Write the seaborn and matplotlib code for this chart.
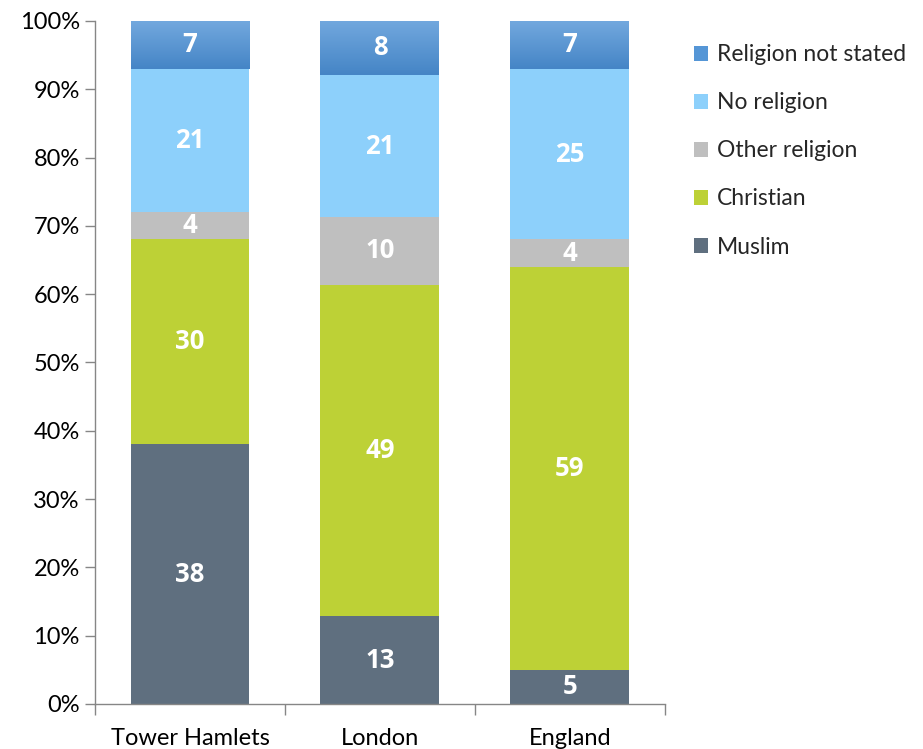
import numpy as np
import pandas as pd
import matplotlib
matplotlib.use("Agg")
import matplotlib.pyplot as plt
from matplotlib.colors import LinearSegmentedColormap
from matplotlib.patches import Patch
import seaborn as sns

# Religion by area, 2011 census (percent of residents)
areas = ["Tower Hamlets", "London", "England"]
religions = ["Muslim", "Christian", "Other religion", "No religion", "Religion not stated"]
muslim = [38, 13, 5]
christian = [30, 49, 59]
other_religion = [4, 10, 4]
no_religion = [21, 21, 25]
not_stated = [7, 8, 7]

colors = {
    "Muslim": "#5F6F7F",
    "Christian": "#BDD136",
    "Other religion": "#BFBFBF",
    "No religion": "#8DD0FB",
    "Religion not stated": "#5596D6",
}

sns.set_theme(style="white")
plt.rcParams["font.family"] = ["Lato", "DejaVu Sans"]

series = [muslim, christian, other_religion, no_religion, not_stated]
df = pd.DataFrame({r: v for r, v in zip(religions, series)}, index=areas)
# 100% stacked: each area's values are scaled to its own total
share = df.div(df.sum(axis=1), axis=0) * 100

fig = plt.figure(figsize=(9.23, 7.49), dpi=100)
ax = fig.add_axes([0.1029, 0.0601, 0.6175, 0.912])

bar_w = 0.626
bottom = np.zeros(len(areas))
grad = LinearSegmentedColormap.from_list("ns", ["#4585C6", "#72A8DE"])
for rel in religions:
    vals = share[rel].values
    sns.barplot(x=areas, y=vals, bottom=bottom, color=colors[rel], width=bar_w,
                ax=ax, saturation=1, linewidth=0, order=areas)
    new_patches = ax.patches[-len(areas):]
    for i, p in enumerate(new_patches):
        if rel == "Religion not stated":
            x0, y0 = p.get_x(), p.get_y()
            w, h = p.get_width(), p.get_height()
            img = np.linspace(0, 1, 64).reshape(-1, 1)
            im = ax.imshow(img, cmap=grad, aspect="auto", origin="lower",
                           extent=[x0, x0 + w, y0, y0 + h], zorder=p.get_zorder() + 0.1)
            im.set_clip_path(p)
        ax.text(i, bottom[i] + vals[i] / 2, f"{df[rel].values[i]}",
                ha="center", va="center", color="white", fontsize=18.5,
                fontweight="bold", family=["Open Sans", "DejaVu Sans"], zorder=5)
    bottom = bottom + vals

ax.set_xlim(-0.5, 2.5)
ax.set_ylim(0, 100)
ax.set_yticks(np.arange(0, 101, 10))
ax.set_yticklabels([f"{t}%" for t in range(0, 101, 10)])
ax.set_xticks(range(len(areas)))
ax.set_xticklabels(areas)
ax.set_xticks([-0.5, 0.5, 1.5, 2.5], minor=True)
ax.tick_params(axis="x", which="major", length=0, pad=17, labelsize=17, colors="black")
ax.tick_params(axis="x", which="minor", length=8, width=1, color="#868686", direction="out")
ax.tick_params(axis="y", length=7, width=1, color="#868686", direction="out",
               labelsize=17, colors="black", pad=4)
ax.tick_params(axis="x", which="minor", bottom=True)
ax.tick_params(axis="y", left=True)
sns.despine(ax=ax)
for s in ("left", "bottom"):
    ax.spines[s].set_color("#868686")
    ax.spines[s].set_linewidth(1)
ax.set_xlabel("")
ax.set_ylabel("")

handles = [Patch(facecolor=colors[r], edgecolor="none", label=r) for r in reversed(religions)]
fig.legend(handles=handles, loc="upper left", bbox_to_anchor=(0.742, 0.953),
           frameon=False, fontsize=16.5, handlelength=0.6, handleheight=0.6,
           handletextpad=0.4, labelspacing=1.18, borderaxespad=0)

fig.savefig("out.png", dpi=100)
